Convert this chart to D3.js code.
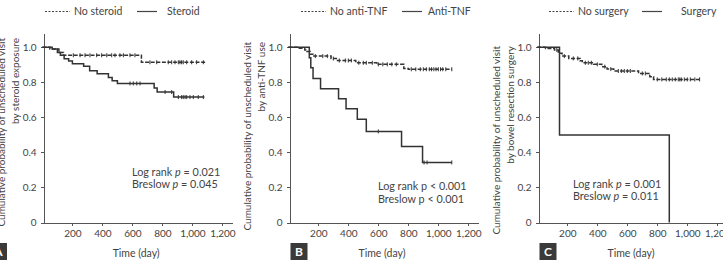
<!DOCTYPE html>
<html>
<head>
<meta charset="utf-8">
<title>Kaplan-Meier curves</title>
<script src="https://cdn.jsdelivr.net/npm/d3@7"></script>
<style>
  body { margin: 0; background: #fff; }
  svg { display: block; font-family: Lato, "Open Sans", sans-serif; }
  .axis path, .axis line { stroke: #555; shape-rendering: crispEdges; }
  .axis text { fill: #444; font-size: 10px; font-family: Lato, sans-serif; }
</style>
</head>
<body>
<div id="chart"></div>
<script>
// tick labels
var timeTicks = [200, 400, 600, 800, 1000, 1200];
var probTicks = [0, 0.2, 0.4, 0.6, 0.8, 1.0];

// step curves: [time (day), cumulative probability from that time]
var noSteroid = [[0,1],[50,0.99],[110,0.97],[140,0.955],[660,0.915],[1085,0.915]];
var steroid = [[0,1],[65,0.99],[100,0.97],[120,0.955],[145,0.935],[175,0.922],[200,0.907],[275,0.892],[315,0.866],[365,0.85],[440,0.828],[465,0.81],[500,0.794],[745,0.768],[765,0.745],[875,0.716],[1080,0.716]];
var noAntiTNF = [[0,1],[60,0.995],[110,0.985],[125,0.976],[145,0.96],[165,0.95],[285,0.936],[320,0.925],[450,0.912],[590,0.903],[770,0.88],[800,0.875],[1090,0.875]];
var antiTNF = [[0,1],[140,0.94],[150,0.884],[165,0.822],[215,0.763],[335,0.707],[385,0.65],[460,0.589],[520,0.52],[755,0.434],[895,0.343],[1090,0.343]];
var noSurgery = [[0,1],[55,0.994],[115,0.985],[140,0.966],[165,0.95],[210,0.937],[285,0.924],[300,0.912],[375,0.903],[430,0.89],[465,0.876],[510,0.865],[675,0.851],[750,0.832],[775,0.817],[1082,0.817]];
var surgery = [[0,1],[148,0.5],[880,0]];

// censored observations (time, day)
var noSteroidCens = [206,251,284,317,362,395,429,462,484,517,540,584,617,717,762,839,862,884,906,917,928,939,962,995,1028,1073];
var steroidCens = [584,606,629,651,818,862,906,928,939,951,962,984,1006,1039,1073];
var noAntiTNFCens = [180,230,260,300,340,380,400,420,470,500,520,560,600,630,660,690,720,820,850,880,900,920,940,955,970,985,1000,1015,1030,1050,1090];
var antiTNFCens = [600,905,925,1090];
var noSurgeryCens = [130,180,240,270,320,340,360,400,450,490,540,560,580,600,620,700,720,800,830,860,880,900,920,940,950,960,980,1000,1020,1050,1082];
var surgeryCens = [];

// texts
var legendNo = ["No steroid", "No anti-TNF", "No surgery"];
var legendYes = ["Steroid", "Anti-TNF", "Surgery"];
var yTitle1 = "Cumulative probability of unscheduled visit";
var yTitle2 = ["by steroid exposure", "by anti-TNF use", "by bowel resection surgery"];
var logRank = ["= 0.021", "< 0.001", "= 0.001"];
var breslow = ["= 0.045", "< 0.001", "= 0.011"];
var panelLetters = ["A", "B", "C"];

var W = 723, H = 265;
var svg = d3.select("#chart").append("svg").attr("width", W).attr("height", H);

// layout for each panel
var panels = [
  { ox: 42.4, legDash: 45, legText: 74, legSolid: 137, legText2: 167, statX: 132, statY: 175.5, italic: true, titleEnd: 38 },
  { ox: 288.3, legDash: 301, legText: 330, legSolid: 402, legText2: 428, statX: 378, statY: 190, italic: false, titleEnd: 42 },
  { ox: 537.3, legDash: 549, legText: 578, legSolid: 642, legText2: 681, statX: 573, statY: 187.5, italic: true, titleEnd: 46 }
];
var series = [
  [noSteroid, steroid, noSteroidCens, steroidCens],
  [noAntiTNF, antiTNF, noAntiTNFCens, antiTNFCens],
  [noSurgery, surgery, noSurgeryCens, surgeryCens]
];

var ink = "#333";

function valueAt(steps, t) {
  var v = steps[0][1];
  steps.forEach(function(s) { if (s[0] <= t) v = s[1]; });
  return v;
}

panels.forEach(function(p, i) {
  var g = svg.append("g");
  var x = d3.scaleLinear().domain([8, 1265]).range([p.ox + 1.2, p.ox + 189.75]);
  var y = d3.scaleLinear().domain([0, 1.082]).range([222.5, 33]);
  var axisX = x(8);

  g.append("g").attr("class", "axis")
    .attr("transform", "translate(0," + y(0) + ")")
    .call(d3.axisBottom(x).tickValues(timeTicks).tickSize(3).tickSizeOuter(0).tickPadding(4)
      .tickFormat(d3.format(",")));
  g.append("g").attr("class", "axis")
    .attr("transform", "translate(" + axisX + ",0)")
    .call(d3.axisLeft(y).tickValues(probTicks).tickSize(3).tickSizeOuter(0).tickPadding(4)
      .tickFormat(function(d) { return d === 0 ? "0" : d3.format(".1f")(d); }));

  var line = d3.line()
    .x(function(d) { return x(d[0]); })
    .y(function(d) { return y(d[1]); })
    .curve(d3.curveStepAfter);

  var s = series[i];
  g.append("path").datum(s[0]).attr("d", line)
    .attr("fill", "none").attr("stroke", ink).attr("stroke-width", 1.5)
    .attr("stroke-dasharray", "4,1.6");
  g.append("path").datum(s[1]).attr("d", line)
    .attr("fill", "none").attr("stroke", ink).attr("stroke-width", 1.5);

  [[s[0], s[2]], [s[1], s[3]]].forEach(function(pair) {
    g.selectAll(null).data(pair[1]).enter().append("line")
      .attr("x1", function(t) { return x(t); })
      .attr("x2", function(t) { return x(t); })
      .attr("y1", function(t) { return y(valueAt(pair[0], t)) - 2; })
      .attr("y2", function(t) { return y(valueAt(pair[0], t)) + 2; })
      .attr("stroke", ink).attr("stroke-width", 1);
  });

  // x title
  g.append("text").attr("x", x(625)).attr("y", 256.5)
    .attr("text-anchor", "middle").attr("fill", "#444").style("font-size", "10.5px")
    .text("Time (day)");

  // y title (two lines)
  g.append("text")
    .attr("transform", "translate(" + (axisX - 39) + "," + p.titleEnd + ") rotate(-90)")
    .attr("text-anchor", "end").attr("fill", "#444").style("font-size", "10px")
    .text(yTitle1);
  g.append("text")
    .attr("transform", "translate(" + (axisX - 25) + "," + p.titleEnd + ") rotate(-90)")
    .attr("text-anchor", "end").attr("fill", "#444").style("font-size", "10px")
    .text(yTitle2[i]);

  // legend
  g.append("line").attr("x1", p.legDash).attr("x2", p.legDash + 25).attr("y1", 11.5).attr("y2", 11.5)
    .attr("stroke", "#444").attr("stroke-width", 1).attr("stroke-dasharray", "2,1.5");
  g.append("text").attr("x", p.legText).attr("y", 15).attr("fill", "#444").style("font-size", "10.5px")
    .text(legendNo[i]);
  g.append("line").attr("x1", p.legSolid).attr("x2", p.legSolid + 20).attr("y1", 11.5).attr("y2", 11.5)
    .attr("stroke", "#444").attr("stroke-width", 1.2);
  g.append("text").attr("x", p.legText2).attr("y", 15).attr("fill", "#444").style("font-size", "10.5px")
    .text(legendYes[i]);

  // statistics
  var st = g.append("text").attr("x", p.statX).attr("y", p.statY).attr("fill", "#444").style("font-size", "10.8px");
  st.append("tspan").text("Log rank ");
  st.append("tspan").style("font-style", p.italic ? "italic" : "normal").text("p");
  st.append("tspan").text(" " + logRank[i]);
  var sb = g.append("text").attr("x", p.statX).attr("y", p.statY + 12.5).attr("fill", "#444").style("font-size", "10.8px");
  sb.append("tspan").text("Breslow ");
  sb.append("tspan").style("font-style", p.italic ? "italic" : "normal").text("p");
  sb.append("tspan").text(" " + breslow[i]);

  // panel letter
  var lx = i === 0 ? -10 : axisX + 1;
  g.append("rect").attr("x", lx).attr("y", 243).attr("width", 17).attr("height", 17).attr("fill", "#3a3a3a");
  g.append("text").attr("x", lx + 8.5).attr("y", 256).attr("text-anchor", "middle")
    .attr("fill", "#fff").style("font-size", "12px").style("font-weight", "bold")
    .text(panelLetters[i]);
});
</script>
</body>
</html>
